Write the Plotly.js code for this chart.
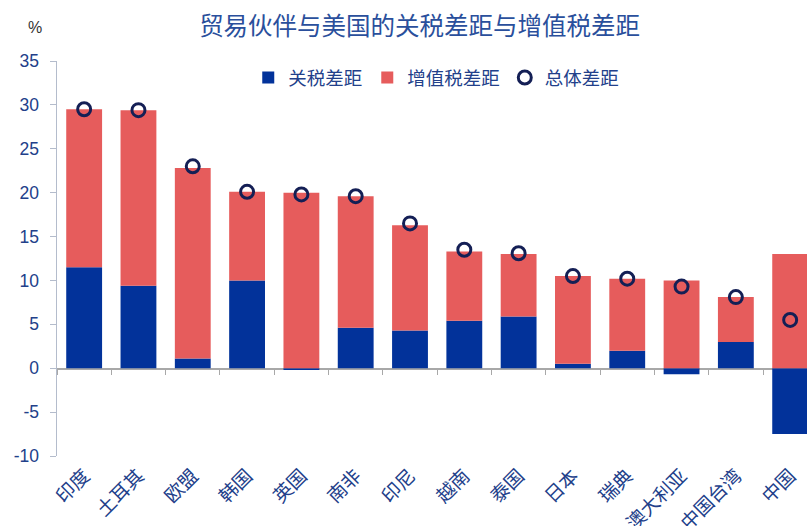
<!DOCTYPE html>
<html>
<head>
<meta charset="utf-8">
<script src="https://cdn.plot.ly/plotly-3.0.1.min.js"></script>
<style>html,body{margin:0;padding:0;background:#fff;}#chart{width:807px;height:526px;}</style>
</head>
<body>
<div id="chart"></div>
<script>
var categories = ["印度","土耳其","欧盟","韩国","英国","南非","印尼","越南","泰国","日本","瑞典","澳大利亚","中国台湾","中国"];
var tariffGap = [11.5, 9.4, 1.1, 10.0, -0.2, 4.6, 4.3, 5.4, 5.9, 0.5, 2.0, -0.7, 3.0, -7.5];
var vatGap = [18.0, 20.0, 21.7, 10.1, 20.0, 15.0, 12.0, 7.9, 7.1, 10.0, 8.2, 10.0, 5.1, 13.0];
var totalGap = [29.5, 29.4, 23.0, 20.1, 19.8, 19.6, 16.5, 13.5, 13.1, 10.5, 10.2, 9.3, 8.1, 5.5];
var seriesNames = ["关税差距", "增值税差距", "总体差距"];
var yTicks = [-10, -5, 0, 5, 10, 15, 20, 25, 30, 35];

var textColor = "#22408a";
var cjk = "'Noto Sans CJK SC', 'Liberation Sans', sans-serif";
var latin = "'Liberation Sans', Arial, sans-serif";

var traces = [
  {type: "bar", name: seriesNames[0], x: categories, y: tariffGap,
   marker: {color: "#02329a"}},
  {type: "bar", name: seriesNames[1], x: categories, y: vatGap,
   marker: {color: "#e65c5c"}},
  {type: "scatter", mode: "markers", name: seriesNames[2], x: categories, y: totalGap,
   xaxis: "x2",
   marker: {symbol: "circle-open", size: 13, color: "#141f55", line: {width: 3, color: "#141f55"}}}
];

var layout = {
  width: 807, height: 526,
  margin: {l: 57, r: 0, t: 61, b: 70},
  paper_bgcolor: "#fff", plot_bgcolor: "#fff",
  barmode: "relative",
  bargap: 0.34,
  showlegend: true,
  title: {text: "贸易伙伴与美国的关税差距与增值税差距", x: 0.52, xanchor: "center", y: 0.95, yanchor: "middle",
          font: {family: cjk, size: 24.5, color: "#2a4f9c"}},
  legend: {orientation: "h", x: 0.255, xanchor: "left", y: 0.957, yanchor: "middle",
           font: {family: cjk, size: 18.5, color: textColor}, itemwidth: 30, tracegroupgap: 0,
           bgcolor: "rgba(0,0,0,0)"},
  xaxis: {type: "category", range: [-0.5, 13.31], showline: false, ticks: "", showgrid: false,
          zeroline: false, tickangle: -45, ticklabelstandoff: 4,
          tickfont: {family: cjk, size: 19, color: textColor},
          fixedrange: true},
  xaxis2: {type: "category", matches: "x", overlaying: "x", anchor: "free", position: 10/45,
           side: "bottom", showticklabels: false, showline: true, linecolor: "#a8a8a8", linewidth: 1.5,
           ticks: "outside", tickson: "boundaries", ticklen: 5, tickcolor: "#a8a8a8", showgrid: false,
           zeroline: false, layer: "below traces"},
  yaxis: {range: [-10, 35], tickvals: yTicks, ticktext: yTicks.map(String), showgrid: false, zeroline: false,
          showline: true, linecolor: "#b4bccc", linewidth: 1.5, ticks: "outside", ticklen: 6, tickcolor: "#b4bccc",
          ticklabelstandoff: 7,
          tickfont: {family: latin, size: 17.5, color: textColor}, layer: "below traces"},
  annotations: [
    {text: "%", xref: "paper", yref: "paper", x: -0.03, y: 1.085, xanchor: "center", yanchor: "middle",
     showarrow: false, font: {family: latin, size: 16, color: "#333"}}
  ]
};

Plotly.newPlot("chart", traces, layout, {displayModeBar: false, staticPlot: true});
</script>
</body>
</html>
